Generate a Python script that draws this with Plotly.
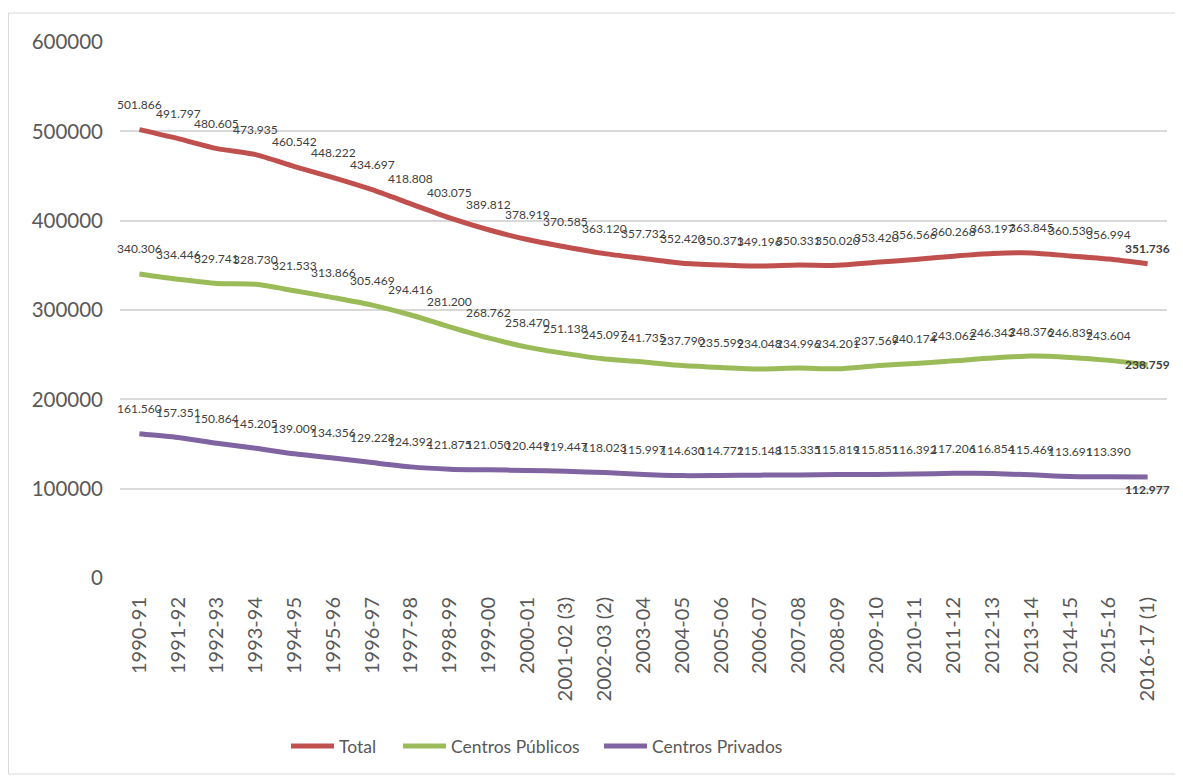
import plotly.graph_objects as go

categories = ["1990-91", "1991-92", "1992-93", "1993-94", "1994-95", "1995-96", "1996-97",
              "1997-98", "1998-99", "1999-00", "2000-01", "2001-02 (3)", "2002-03 (2)",
              "2003-04", "2004-05", "2005-06", "2006-07", "2007-08", "2008-09", "2009-10",
              "2010-11", "2011-12", "2012-13", "2013-14", "2014-15", "2015-16", "2016-17 (1)"]

total = [501866, 491797, 480605, 473935, 460542, 448222, 434697, 418808, 403075, 389812,
         378919, 370585, 363120, 357732, 352420, 350371, 349196, 350331, 350020, 353420,
         356566, 360268, 363197, 363845, 360530, 356994, 351736]

publicos = [340306, 334446, 329741, 328730, 321533, 313866, 305469, 294416, 281200, 268762,
            258470, 251138, 245097, 241735, 237790, 235599, 234048, 234996, 234201, 237569,
            240174, 243062, 246343, 248376, 246839, 243604, 238759]

privados = [161560, 157351, 150864, 145205, 139009, 134356, 129228, 124392, 121875, 121050,
            120449, 119447, 118023, 115997, 114630, 114772, 115148, 115335, 115819, 115851,
            116392, 117206, 116854, 115469, 113691, 113390, 112977]

# name, values, colour, shift of last label, legend id, legend line start (page px)
series = [
    ("Total", total, "#C0504D", 15, "legend", 292),
    ("Centros Públicos", publicos, "#9BBB59", 0, "legend2", 404),
    ("Centros Privados", privados, "#8064A2", -12, "legend3", 605),
]

FONT = "Lato"
fig = go.Figure()
annotations = []


def fmt(v):
    return f"{v:,}".replace(",", ".")


# page has an 8px body margin: work in page pixels, convert to figure pixels
OFF = 8
FW, FH = 1183 - OFF, 779 - OFF
L, R, T, B = 120 - OFF, 1167 - OFF, 42 - OFF, 578 - OFF
W, H = R - L, B - T
def px_x(p): return (p - OFF - L) / W
def px_y(p): return (B - (p - OFF)) / H


legends = {}
for name, vals, color, last_shift, leg, lx in series:
    fig.add_trace(go.Scatter(
        x=categories, y=vals, name=name, mode="lines", legend=leg,
        line=dict(color=color, width=5, shape="spline", smoothing=0.7),
        hoverinfo="x+y+name",
    ))
    legends[leg] = dict(orientation="h", x=px_x(lx - 6), xanchor="left",
                        y=px_y(746), yanchor="middle",
                        font=dict(family=FONT, size=17.5, color="#595959"),
                        itemwidth=43, bgcolor="rgba(0,0,0,0)")
    n = len(vals)
    for i, (c, v) in enumerate(zip(categories, vals)):
        last = i == n - 1
        annotations.append(dict(
            x=c, y=v, xref="x", yref="y", showarrow=False,
            text=("<b>" + fmt(v) + "</b>") if last else fmt(v),
            yshift=last_shift if last else 25,
            font=dict(family=FONT, size=12, color="#404040"),
        ))

fig.add_shape(type="rect", xref="paper", yref="paper",
              x0=px_x(8.5), x1=px_x(1176), y0=px_y(774), y1=px_y(13),
              line=dict(color="#D9D9D9", width=1), fillcolor="rgba(0,0,0,0)", layer="below")

fig.update_layout(
    width=FW, height=FH,
    margin=dict(l=L, r=FW - R, t=T, b=FH - B),
    paper_bgcolor="white", plot_bgcolor="white",
    font=dict(family=FONT, color="#595959"),
    showlegend=True,
    annotations=annotations,
    xaxis=dict(
        type="category", range=[-0.5, len(categories) - 0.5],
        showgrid=False, showline=False, zeroline=False,
        tickangle=-90, tickfont=dict(family=FONT, size=20, color="#595959"),
        ticks="", ticklabelstandoff=14,
    ),
    yaxis=dict(
        range=[0, 600000], dtick=100000, tickformat="d",
        showgrid=True, gridcolor="#D9D9D9", gridwidth=1.5,
        showline=False, zeroline=False,
        tickfont=dict(family=FONT, size=20.5, color="#595959"),
        ticks="", ticklabelstandoff=16,
    ),
    **legends,
)

fig.write_html("out.html")
